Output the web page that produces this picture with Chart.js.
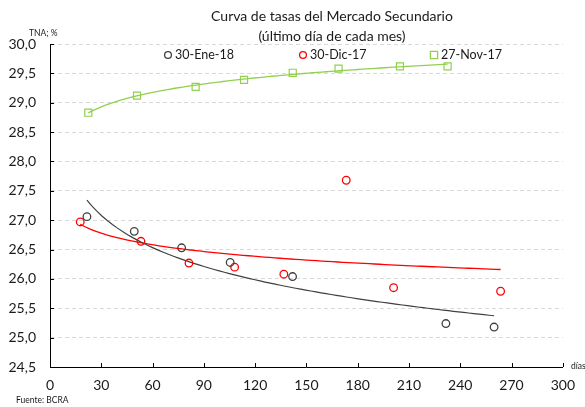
<!DOCTYPE html>
<html><head><meta charset="utf-8">
<script src="https://cdn.jsdelivr.net/npm/chart.js@4/dist/chart.umd.min.js"></script>
<style>html,body{margin:0;padding:0;background:#fff}#wrap{width:585px;height:407px;position:relative}</style>
</head><body><div id="wrap"><canvas id="c" width="585" height="407"></canvas></div>
<script>
// ---- data ----
const titleLines = ['Curva de tasas del Mercado Secundario', '(último día de cada mes)'];
const seriesNames = ['30-Ene-18', '30-Dic-17', '27-Nov-17'];
const eneDays  = [21.6, 49.3, 77.0, 105.4, 141.9, 231.6, 259.8];
const eneRates = [27.06, 26.81, 26.53, 26.28, 26.04, 25.24, 25.18];
const dicDays  = [17.7, 53.2, 81.3, 108.0, 136.8, 173.3, 201.0, 263.6];
const dicRates = [26.97, 26.64, 26.27, 26.20, 26.08, 27.68, 25.85, 25.79];
const novDays  = [22.4, 50.9, 85.2, 113.5, 142.0, 168.8, 204.7, 232.6];
const novRates = [28.83, 29.12, 29.27, 29.39, 29.51, 29.58, 29.62, 29.62];
const xTicks = [0, 30, 60, 90, 120, 150, 180, 210, 240, 270, 300];
const yTicks = [24.5, 25.0, 25.5, 26.0, 26.5, 27.0, 27.5, 28.0, 28.5, 29.0, 29.5, 30.0];

const cBlack = '#404040', cRed = '#ff0000', cGreen = '#92d050';

function pts(xs, ys){ return xs.map((x,i)=>({x:x, y:ys[i]})); }
// logarithmic least-squares trendline (as in the source spreadsheet)
function logTrend(xs, ys){
  const n = xs.length, lx = xs.map(Math.log);
  const mx = lx.reduce((a,b)=>a+b,0)/n, my = ys.reduce((a,b)=>a+b,0)/n;
  let sxy=0, sxx=0;
  for(let i=0;i<n;i++){ sxy += (lx[i]-mx)*(ys[i]-my); sxx += (lx[i]-mx)*(lx[i]-mx); }
  const b = sxy/sxx, a = my - b*mx;
  const x0 = Math.min(...xs), x1 = Math.max(...xs), out = [];
  for(let k=0;k<=80;k++){ const x = x0 + (x1-x0)*k/80; out.push({x:x, y:a + b*Math.log(x)}); }
  return out;
}

const fmt = v => v.toFixed(1).replace('.', ',');
const FONT = 'Lato, "Open Sans", sans-serif';

const decor = {
  id: 'decor',
  afterDraw(chart){
    const ctx = chart.ctx, xs = chart.scales.x, ys = chart.scales.y, ca = chart.chartArea;
    ctx.save();
    ctx.setLineDash([]);
    // inward tick marks
    ctx.strokeStyle = '#000'; ctx.lineWidth = 1;
    xTicks.forEach(t => { const px = Math.round(xs.getPixelForValue(t))+0.5; ctx.beginPath(); ctx.moveTo(px, ca.bottom); ctx.lineTo(px, ca.bottom-4); ctx.stroke(); });
    yTicks.forEach(t => { const py = Math.round(ys.getPixelForValue(t))+0.5; ctx.beginPath(); ctx.moveTo(ca.left, py); ctx.lineTo(ca.left+4, py); ctx.stroke(); });
    // title
    ctx.fillStyle = '#1a1a1a'; ctx.textAlign = 'center'; ctx.textBaseline = 'middle';
    ctx.font = '14px ' + FONT;
    ctx.fillText(titleLines[0], 332, 16);
    ctx.fillText(titleLines[1], 332, 36);
    // axis notes
    ctx.font = '8.5px ' + FONT; ctx.textAlign = 'left';
    ctx.fillText('TNA; %', 29, 33);
    ctx.fillText('días', 571, 366);
    ctx.fillText('Fuente: BCRA', 16, 400);
    // legend
    ctx.font = '12.5px ' + FONT; ctx.lineWidth = 1.3;
    const items = [[168, cBlack, 'circle'], [303, cRed, 'circle'], [434, cGreen, 'rect']];
    items.forEach((it, i) => {
      const [mx, col, st] = it, my = 55;
      ctx.strokeStyle = col; ctx.beginPath();
      if (st === 'circle') ctx.arc(mx, my, 3.4, 0, Math.PI*2); else ctx.rect(mx-3.6, my-3.6, 7.2, 7.2);
      ctx.stroke();
      ctx.fillStyle = '#1a1a1a'; ctx.fillText(seriesNames[i], mx + 7, my);
    });
    ctx.restore();
  }
};

new Chart(document.getElementById('c'), {
  type: 'scatter',
  data: {
    datasets: [
      { label: seriesNames[0], data: pts(eneDays, eneRates), showLine:false, pointStyle:'circle', pointRadius:3.8, pointBorderWidth:1.3, borderColor:cBlack, backgroundColor:'rgba(0,0,0,0)', order:1 },
      { label: seriesNames[1], data: pts(dicDays, dicRates), showLine:false, pointStyle:'circle', pointRadius:3.8, pointBorderWidth:1.3, borderColor:cRed, backgroundColor:'rgba(0,0,0,0)', order:1 },
      { label: seriesNames[2], data: pts(novDays, novRates), showLine:false, pointStyle:'rect', pointRadius:5, pointBorderWidth:1.2, borderColor:cGreen, backgroundColor:'rgba(0,0,0,0)', order:1 },
      { label: 'trend ene', data: logTrend(eneDays, eneRates), showLine:true, pointRadius:0, borderColor:cBlack, borderWidth:1.2, order:2 },
      { label: 'trend dic', data: logTrend(dicDays, dicRates), showLine:true, pointRadius:0, borderColor:cRed, borderWidth:1.3, order:2 },
      { label: 'trend nov', data: logTrend(novDays, novRates), showLine:true, pointRadius:0, borderColor:cGreen, borderWidth:1.3, order:2 }
    ]
  },
  options: {
    responsive:false, animation:false,
    layout: { padding: { left:0, right:22, top:44, bottom:0 } },
    plugins: { legend:{display:false}, tooltip:{enabled:false}, title:{display:false} },
    scales: {
      x: {
        type:'linear', min:0, max:300,
        afterBuildTicks: s => { s.ticks = xTicks.map(v=>({value:v})); },
        afterFit: s => { s.height = 40; },
        grid: { display:true, drawOnChartArea:false, drawTicks:false },
        border: { display:true, color:'#000', width:1 },
        ticks: { padding:10, color:'#1a1a1a', font:{ family:FONT, size:14 }, maxRotation:0 }
      },
      y: {
        min:24.5, max:30,
        afterBuildTicks: s => { s.ticks = yTicks.map(v=>({value:v})); },
        afterFit: s => { s.width = 50; },
        grid: { drawTicks:false, color: c => (c.tick && c.tick.value === 24.5) ? 'rgba(0,0,0,0)' : '#d9d9d9', lineWidth:1 },
        border: { display:true, color:'#000', width:1, dash:[4,3] },
        ticks: { padding:14, color:'#1a1a1a', font:{ family:FONT, size:14 }, callback: v => fmt(v) }
      }
    }
  },
  plugins: [decor]
});
</script>
</body></html>
